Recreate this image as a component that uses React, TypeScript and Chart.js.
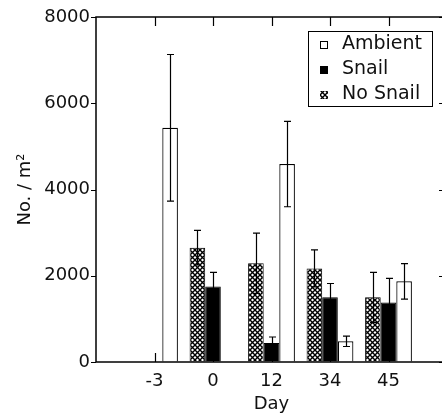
import React, { useEffect, useRef } from "react";
import { Chart, registerables } from "chart.js";

Chart.register(...registerables);

const categories = ["", "-3", "0", "12", "34", "45", ""];
const noSnail = [null, null, 2650, 2290, 2170, 1500, null];
const snail = [null, null, 1750, 440, 1500, 1380, null];
const ambient = [null, 5430, null, 4590, 480, 1870, null];
const noSnailErr = [null, null, 400, 700, 430, 580, null];
const snailErr = [null, null, 330, 140, 320, 560, null];
const ambientErr = [null, 1700, null, 990, 120, 410, null];
const yTicks = [0, 2000, 4000, 6000, 8000];
const tickedCategories = ["-3", "0", "12", "34", "45"];
const legendLabels = ["Ambient", "Snail", "No Snail"];

const FONT = "'DejaVu Sans', sans-serif";

function makeHatch(): CanvasPattern | string {
  const p = document.createElement("canvas");
  p.width = 5;
  p.height = 5;
  const c = p.getContext("2d");
  if (!c) return "#888";
  c.fillStyle = "#fff";
  c.fillRect(0, 0, 5, 5);
  c.strokeStyle = "#000";
  c.lineWidth = 1.4;
  c.beginPath();
  c.moveTo(-1, -1);
  c.lineTo(6, 6);
  c.moveTo(6, -1);
  c.lineTo(-1, 6);
  c.stroke();
  const pat = c.createPattern(p, "repeat");
  return pat || "#888";
}

export default function App() {
  const ref = useRef<HTMLCanvasElement | null>(null);

  useEffect(() => {
    const canvas = ref.current;
    if (!canvas) return;
    const hatch = makeHatch();
    const errs = [noSnailErr, snailErr, ambientErr];

    const framePlugin = {
      id: "frame",
      afterDatasetsDraw(chart: any) {
        const { ctx, chartArea: ca, scales } = chart;
        const x = scales.x;
        const y = scales.y;
        ctx.save();
        // error bars
        ctx.strokeStyle = "#000";
        ctx.lineWidth = 1.2;
        chart.data.datasets.forEach((ds: any, di: number) => {
          const meta = chart.getDatasetMeta(di);
          meta.data.forEach((el: any, i: number) => {
            const v = ds.data[i];
            const e = errs[di][i];
            if (v == null || e == null) return;
            const cx = Math.round(el.x) + 0.5;
            const yt = y.getPixelForValue(v + e);
            const yb = y.getPixelForValue(v - e);
            ctx.beginPath();
            ctx.moveTo(cx, yt);
            ctx.lineTo(cx, yb);
            ctx.moveTo(cx - 3.5, yt);
            ctx.lineTo(cx + 3.5, yt);
            ctx.moveTo(cx - 3.5, yb);
            ctx.lineTo(cx + 3.5, yb);
            ctx.stroke();
          });
        });
        // frame
        ctx.lineWidth = 1.5;
        ctx.strokeRect(ca.left, ca.top, ca.right - ca.left, ca.bottom - ca.top);
        // x ticks inward top & bottom
        ctx.lineWidth = 1.2;
        tickedCategories.forEach((lab) => {
          const px = Math.round(x.getPixelForValue(categories.indexOf(lab))) + 0.5;
          ctx.beginPath();
          ctx.moveTo(px, ca.top);
          ctx.lineTo(px, ca.top + 9);
          ctx.moveTo(px, ca.bottom);
          ctx.lineTo(px, ca.bottom - 9);
          ctx.stroke();
        });
        // y ticks: outward left, inward right
        yTicks.forEach((t) => {
          const py = Math.round(y.getPixelForValue(t)) + 0.5;
          ctx.beginPath();
          ctx.moveTo(ca.left - 5, py);
          ctx.lineTo(ca.left, py);
          ctx.moveTo(ca.right, py);
          ctx.lineTo(ca.right - 8, py);
          ctx.stroke();
        });
        // legend
        const lx = ca.left + 212;
        const ly = ca.top + 14;
        ctx.lineWidth = 1;
        ctx.fillStyle = "#fff";
        ctx.fillRect(lx, ly, 124, 75);
        ctx.strokeRect(lx + 0.5, ly + 0.5, 124, 75);
        const fills = ["#fff", "#000", hatch];
        ctx.font = `19px ${FONT}`;
        ctx.textBaseline = "middle";
        ctx.textAlign = "left";
        legendLabels.forEach((lab, i) => {
          const cy = ly + 13 + i * 25;
          ctx.fillStyle = fills[i] as any;
          ctx.fillRect(lx + 12, cy - 3, 8, 8);
          if (i === 0) {
            ctx.strokeStyle = "#000";
            ctx.strokeRect(lx + 12.5, cy - 2.5, 7, 7);
          }
          ctx.fillStyle = "#111";
          ctx.fillText(lab, lx + 34, cy);
        });
        ctx.restore();
      },
    };

    const chart = new Chart(canvas, {
      type: "bar",
      data: {
        labels: categories,
        datasets: [
          { label: "No Snail", data: noSnail, backgroundColor: hatch as any, borderColor: "#000", borderWidth: 1 },
          { label: "Snail", data: snail, backgroundColor: "#000", borderColor: "#000", borderWidth: 1 },
          { label: "Ambient", data: ambient, backgroundColor: "#fff", borderColor: "#000", borderWidth: 1.2 },
        ],
      },
      options: {
        responsive: false,
        animation: false,
        events: [],
        layout: { padding: { top: 17, right: 13, left: 0, bottom: 0 } },
        datasets: { bar: { categoryPercentage: 0.8, barPercentage: 1.0 } },
        plugins: { legend: { display: false }, tooltip: { enabled: false } },
        scales: {
          x: {
            type: "category",
            offset: false,
            grid: { display: true, drawOnChartArea: false, drawTicks: false, color: "rgba(0,0,0,0)" },
            border: { display: false },
            ticks: { padding: 9, color: "#111", font: { family: FONT, size: 18 }, autoSkip: false, maxRotation: 0 },
            title: { display: true, text: "Day", color: "#111", font: { family: FONT, size: 18 }, padding: { top: 0, bottom: 2 } },
            afterFit: (s: any) => {
              s.height = 55;
            },
          },
          y: {
            min: 0,
            max: 8000,
            grid: { display: true, drawOnChartArea: false, drawTicks: true, tickLength: 5, color: "rgba(0,0,0,0)" },
            border: { display: false },
            ticks: {
              stepSize: 2000,
              padding: 1,
              color: "#111",
              font: { family: FONT, size: 18 },
              callback: (v: any) => String(v),
            },
            title: { display: true, text: "No. / m²", color: "#111", font: { family: FONT, size: 18 }, padding: { top: 15, bottom: 0 } },
            afterFit: (s: any) => {
              s.width = 96;
            },
          },
        },
      },
      plugins: [framePlugin],
    });
    return () => chart.destroy();
  }, []);

  return (
    <div style={{ position: "absolute", left: 0, top: 0, width: 442, height: 417, overflow: "hidden", background: "#fff" }}>
      <canvas ref={ref} width={460} height={417} style={{ display: "block", width: 460, height: 417 }} />
    </div>
  );
}
